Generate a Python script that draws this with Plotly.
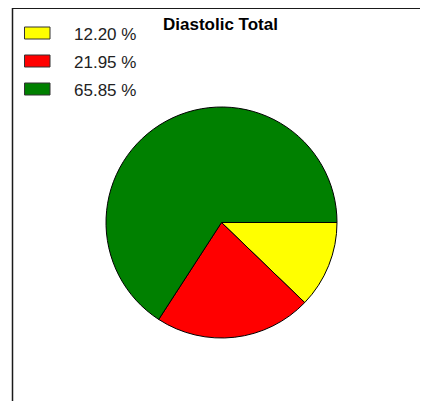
"""
Diastolic Total 饼图
"""
import plotly.graph_objects as go

# 数据
categories = ['Yellow', 'Red', 'Green']
counts = [5, 9, 27]
colors = ['#FFFF00', '#FF0000', '#008000']
title = 'Diastolic Total'

# 页面 body 有 8px 默认边距，图像尺寸相应缩小
OFF = 8
W, H = 428 - OFF, 401 - OFF
total = sum(counts)
pct_labels = [f'{c / total * 100:.2f} %' for c in counts]


def px_x(x):
    return (x - OFF) / W


def px_y(y):
    return 1 - (y - OFF) / H


fig = go.Figure()

fig.add_trace(go.Pie(
    labels=categories,
    values=counts,
    sort=False,
    direction='clockwise',
    rotation=90,
    textinfo='none',
    marker=dict(colors=colors, line=dict(color='#000000', width=1)),
    domain=dict(x=[px_x(106), px_x(337)], y=[px_y(338), px_y(107)]),
    showlegend=False,
))

shapes = []
annotations = []

# 外框
shapes.append(dict(type='line', xref='paper', yref='paper',
                   x0=px_x(12), x1=1.05, y0=px_y(8), y1=px_y(8),
                   line=dict(color='#1a1a1a', width=2)))
shapes.append(dict(type='line', xref='paper', yref='paper',
                   x0=px_x(12.5), x1=px_x(12.5), y0=-0.05, y1=px_y(8),
                   line=dict(color='#1a1a1a', width=1.5)))

# 手动图例
for i, (lab, col) in enumerate(zip(pct_labels, colors)):
    cy = 33 + i * 28
    shapes.append(dict(type='rect', xref='paper', yref='paper',
                       x0=px_x(24.5), x1=px_x(50), y0=px_y(cy + 6), y1=px_y(cy - 6),
                       fillcolor=col, line=dict(color='#333333', width=1)))
    annotations.append(dict(text=lab, xref='paper', yref='paper',
                            x=px_x(72), y=px_y(cy + 1.5), xanchor='left', yanchor='middle',
                            showarrow=False,
                            font=dict(family='Liberation Sans, Arial', size=17, color='#222222')))

annotations.append(dict(text=f'<b>{title}</b>', xref='paper', yref='paper',
                        x=px_x(220), y=px_y(24), xanchor='center', yanchor='middle',
                        showarrow=False,
                        font=dict(family='Liberation Sans, Arial', size=17, color='#000000')))

fig.update_layout(
    width=W,
    height=H,
    margin=dict(l=0, r=0, t=0, b=0),
    paper_bgcolor='white',
    plot_bgcolor='white',
    shapes=shapes,
    annotations=annotations,
)

fig.write_html("out.html")
